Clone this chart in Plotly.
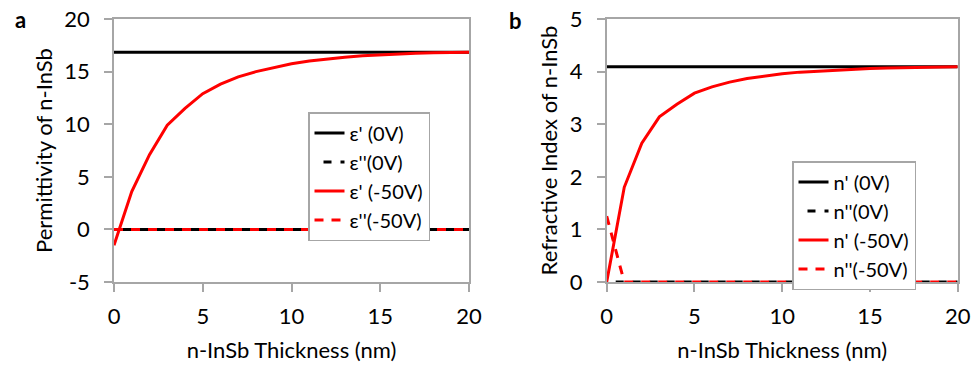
import plotly.graph_objects as go

# ---------------- data ----------------
thickness = list(range(0, 21))

eps_real_0V = [16.85] * 21
eps_imag_0V = [0.0] * 21
eps_real_50V = [-1.5, 3.6, 7.1, 9.9, 11.5, 12.9, 13.8, 14.5, 15.0, 15.4, 15.75,
                16.0, 16.2, 16.37, 16.5, 16.6, 16.68, 16.75, 16.8, 16.83, 16.85]
eps_imag_50V = [0.0] * 21

n_real_0V = [4.09] * 21
n_imag_0V = [0.0] * 21
n_real_50V = [0.0, 1.8, 2.64, 3.14, 3.38, 3.59, 3.71, 3.8, 3.87, 3.92, 3.96,
              3.99, 4.01, 4.03, 4.045, 4.058, 4.068, 4.075, 4.08, 4.085, 4.09]
n_imag_50V = [1.25, 0.0, 0.0, 0.0, 0.0, 0.0, 0.0, 0.0, 0.0, 0.0, 0.0,
              0.0, 0.0, 0.0, 0.0, 0.0, 0.0, 0.0, 0.0, 0.0, 0.0]

names_a = ["ε' (0V)", "ε''(0V)", "ε' (-50V)", "ε''(-50V)"]
names_b = ["n' (0V)", "n''(0V)", "n' (-50V)", "n''(-50V)"]

x_ticks = [0, 5, 10, 15, 20]
y_ticks_a = [-5, 0, 5, 10, 15, 20]
y_ticklabels_a = ["-5", "0", "5", "10", "15", "20"]
y_ticks_b = [0, 1, 2, 3, 4, 5]

x_title = "n-InSb Thickness (nm)"
y_title_a = "Permittivity of n-InSb"
y_title_b = "Refractive Index of n-InSb"

FONT = "Lato, Carlito, sans-serif"
FS = 22
FS_LEG = 20
BLACK = "#000000"
RED = "#FF0000"
GRAY = "#A6A6A6"
LW = 3

W, H = 972, 367
ML, MR, MT, MB = 30, 14, 19, 85
PW, PH = W - ML - MR, H - MT - MB


def px_x(p):
    return (p - ML) / PW


def px_y(p):
    return 1 - (p - MT) / PH


fig = go.Figure()

styles = [
    dict(color=BLACK, dash="solid"),
    dict(color=BLACK, dash="0px,9px,8px,0px"),
    dict(color=RED, dash="solid"),
    dict(color=RED, dash="9px,8px"),
]

for ys, nm, st in zip([eps_real_0V, eps_imag_0V, eps_real_50V, eps_imag_50V], names_a, styles):
    fig.add_trace(go.Scatter(x=thickness, y=ys, name=nm, mode="lines",
                             line=dict(color=st["color"], dash=st["dash"], width=LW),
                             xaxis="x", yaxis="y", legend="legend"))

for ys, nm, st in zip([n_real_0V, n_imag_0V, n_real_50V, n_imag_50V], names_b, styles):
    fig.add_trace(go.Scatter(x=thickness, y=ys, name=nm, mode="lines",
                             line=dict(color=st["color"], dash=st["dash"], width=LW),
                             xaxis="x2", yaxis="y2", legend="legend2"))

ax_common = dict(showline=True, linecolor=GRAY, linewidth=1.5, mirror=True,
                 ticks="outside", tickcolor=GRAY, ticklen=8, tickwidth=1.5,
                 showgrid=False, zeroline=False, automargin=False,
                 tickfont=dict(family=FONT, size=FS, color=BLACK))

legend_common = dict(xanchor="left", yanchor="top",
                     bgcolor="white", bordercolor=GRAY, borderwidth=1.5,
                     font=dict(family=FONT, size=FS_LEG, color=BLACK))

fig.update_layout(
    width=W, height=H,
    margin=dict(l=ML, r=MR, t=MT, b=MB, autoexpand=False),
    paper_bgcolor="white", plot_bgcolor="white",
    font=dict(family=FONT, size=FS, color=BLACK),
    hovermode=False,
    xaxis=dict(domain=[px_x(114), px_x(469)], range=[0, 20], tickvals=x_ticks,
               anchor="y", ticklabelstandoff=6,
               title=dict(text=x_title, font=dict(family=FONT, size=FS), standoff=14),
               **ax_common),
    yaxis=dict(domain=[0, 1], range=[-5, 20], tickvals=y_ticks_a,
               ticktext=y_ticklabels_a, anchor="x", ticklabelstandoff=10,
               title=dict(text=y_title_a, font=dict(family=FONT, size=FS), standoff=6),
               **ax_common),
    xaxis2=dict(domain=[px_x(606.7), px_x(957.7)], range=[0, 20], tickvals=x_ticks,
                anchor="y2", ticklabelstandoff=6,
                title=dict(text=x_title, font=dict(family=FONT, size=FS), standoff=14),
                **ax_common),
    yaxis2=dict(domain=[0, 1], range=[0, 5], tickvals=y_ticks_b, anchor="x2",
                ticklabelstandoff=10,
                title=dict(text=y_title_b, font=dict(family=FONT, size=FS), standoff=6),
                **ax_common),
    legend=dict(x=px_x(308), y=px_y(112), **legend_common),
    legend2=dict(x=px_x(792), y=px_y(161), **legend_common),
    annotations=[
        dict(text="<b>a</b>", x=px_x(20), y=px_y(19), xref="paper", yref="paper",
             xanchor="center", yanchor="middle",
             showarrow=False, font=dict(family=FONT, size=FS, color=BLACK)),
        dict(text="<b>b</b>", x=px_x(515), y=px_y(20), xref="paper", yref="paper",
             xanchor="center", yanchor="middle",
             showarrow=False, font=dict(family=FONT, size=FS, color=BLACK)),
    ],
)

fig.write_html("out.html", config={"displayModeBar": False},
               post_script="document.body.style.margin='0';document.body.style.padding='0';")
